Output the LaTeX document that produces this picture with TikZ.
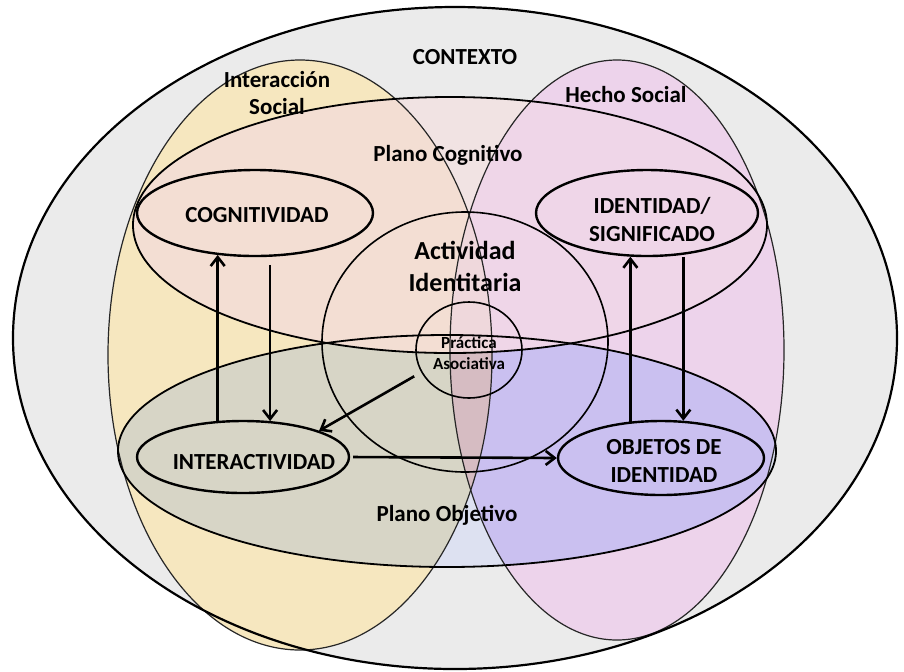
\documentclass[tikz,border=0pt]{standalone}
\usepackage{fontspec}
\setmainfont{Carlito}
\usetikzlibrary{arrows.meta,shapes.geometric}
\definecolor{cBg}{HTML}{EBEBEB}
\definecolor{cYel}{HTML}{F6E7BF}
\definecolor{cPnk}{HTML}{EDD3EB}
\definecolor{cCG}{HTML}{F1E3E3}
\definecolor{cCY}{HTML}{F3DED3}
\definecolor{cCP}{HTML}{EFD6E8}
\definecolor{cCL}{HTML}{EFD8DC}
\definecolor{cOG}{HTML}{DDE1F1}
\definecolor{cOY}{HTML}{D7D5C6}
\definecolor{cOP}{HTML}{CAC0F0}
\definecolor{cOL}{HTML}{D6BCC2}
\begin{document}
\begin{tikzpicture}[x=0.5pt,y=-0.5pt,
  eOut/.style={insert path={(455,338) ellipse [x radius=442, y radius=331]}},
  eL/.style={insert path={(300,355) ellipse [x radius=192, y radius=295]}},
  eR/.style={insert path={(617,350) ellipse [x radius=167, y radius=290]}},
  eC/.style={insert path={(450,225) ellipse [x radius=317, y radius=128]}},
  eO/.style={insert path={(447,451) ellipse [x radius=329, y radius=116]}},
  thinE/.style={draw=black!85, line width=0.6pt},
  midE/.style={draw=black, line width=0.9pt},
  ellnode/.style={ellipse, draw=black, inner sep=0pt, line width=1.2pt},
  circnode/.style={ellipse, draw=black, inner sep=0pt, line width=0.8pt},
  lbl/.style={font=\fontsize{11.5}{14}\selectfont\bfseries, inner sep=0pt, text=black, align=center},
  arr/.style={line width=1.3pt, -{Straight Barb[length=4.5pt,width=7pt]}}
]
\useasboundingbox (0,0) rectangle (904,671);
% fills
\fill[cBg, eOut];
\fill[cYel, eL];
\fill[cPnk, eR];
\begin{scope}
  \path[clip, eO];
  \fill[cOG, eO];
  \fill[cOY, eL];
  \fill[cOP, eR];
  \path[clip, eL];
  \fill[cOL, eR];
\end{scope}
\begin{scope}
  \path[clip, eC];
  \fill[cCG, eC];
  \fill[cCY, eL];
  \fill[cCP, eR];
  \path[clip, eL];
  \fill[cCL, eR];
\end{scope}
% outlines
\path[thinE, eL];
\path[thinE, eR];
\path[midE, eC];
\path[midE, eO];
\path[draw=black, line width=1.1pt, eOut];
% inner shapes
\node[circnode, minimum width=143pt, minimum height=130pt] (actc) at (465,342) {};
\node[circnode, minimum width=53pt, minimum height=48pt] (prac) at (469,350) {};
\node[ellnode, minimum width=118pt, minimum height=43pt] (cog) at (255,213) {};
\node[ellnode, minimum width=111pt, minimum height=43pt] (idn) at (647,213) {};
\node[ellnode, minimum width=106pt, minimum height=36pt] (inter) at (243,457) {};
\node[ellnode, minimum width=103pt, minimum height=37pt] (obj) at (661,458) {};
% arrows
\draw[arr] (inter.125) -- (inter.125 |- cog.228);
\draw[arr, shorten <=4pt] (cog.289) -- (cog.289 |- inter.52);
\draw[arr] (obj.130) -- (obj.130 |- idn.249);
\draw[arr, shorten <=1pt] (idn.311) -- (idn.311 |- obj.59);
\draw[arr, shorten <=4pt] (prac.205) -- (inter.19);
\draw[arr, shorten <=1.5pt] (inter.east) -- (obj.west);
% labels
\node[lbl] (tctx) at (465,57) {CONTEXTO};
\node[lbl, font=\fontsize{11.5}{13.5}\selectfont\bfseries] (tis) at (277,93) {Interacción\\Social};
\node[lbl] (ths) at (626,95) {Hecho Social};
\node[lbl] (tpc) at (448,155) {Plano Cognitivo};
\node[lbl] (tcog) at (257,215) {COGNITIVIDAD};
\node[lbl] (tidn) at (652,219) {IDENTIDAD/\\SIGNIFICADO};
\node[lbl, font=\fontsize{13}{16}\selectfont\bfseries] (tact) at (465,266) {Actividad\\Identitaria};
\node[lbl, font=\fontsize{8.5}{10.5}\selectfont\bfseries] (tprac) at (469,353) {Práctica\\Asociativa};
\node[lbl] (tint) at (254,462) {INTERACTIVIDAD};
\node[lbl] (tobj) at (664,461) {OBJETOS DE\\IDENTIDAD};
\node[lbl] (tpo) at (447,515) {Plano Objetivo};
\end{tikzpicture}
\end{document}
